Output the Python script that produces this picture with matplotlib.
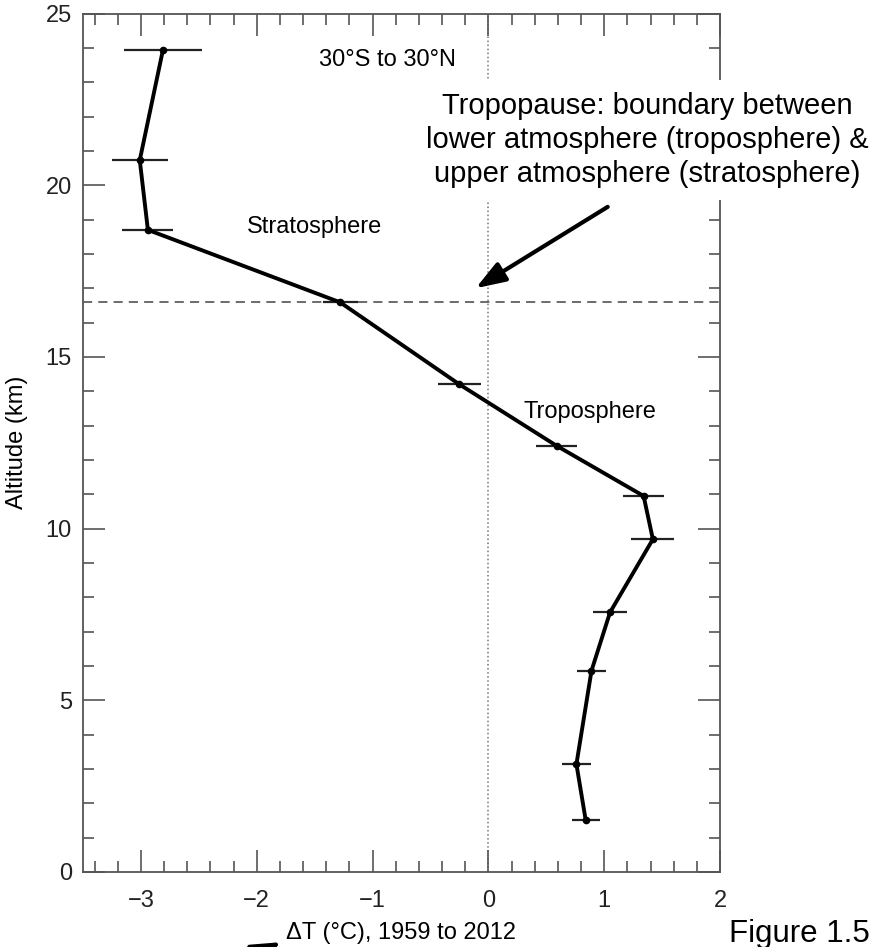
import numpy as np
import matplotlib.pyplot as plt

plt.rcParams['font.family'] = ['Liberation Sans', 'DejaVu Sans']

# Tropical (30S-30N) temperature trend profile, 1959-2012
altitude = [23.94, 20.73, 18.70, 16.59, 14.20, 12.41, 10.95, 9.69, 7.56, 5.86, 3.14, 1.51]
delta_t = [-2.81, -3.01, -2.94, -1.28, -0.25, 0.59, 1.34, 1.42, 1.05, 0.89, 0.76, 0.84]
delta_t_err = [0.34, 0.24, 0.22, 0.15, 0.185, 0.175, 0.175, 0.185, 0.15, 0.125, 0.125, 0.12]
tropopause_km = 16.6

x_ticks = [-3, -2, -1, 0, 1, 2]
y_ticks = [0, 5, 10, 15, 20, 25]

fig = plt.figure(figsize=(8.86, 9.47), dpi=100)
ax = fig.add_axes([0.0937, 0.0792, 0.719, 0.9065])

frame = '#555555'
for s in ax.spines.values():
    s.set_color(frame)
    s.set_linewidth(1.3)

ax.set_xlim(-3.5, 2)
ax.set_ylim(0, 25)
ax.set_xticks(x_ticks)
ax.set_yticks(y_ticks)
ax.set_xticks(np.arange(-3.4, 2.0, 0.2), minor=True)
ax.set_yticks(np.arange(0, 26, 1), minor=True)
ax.tick_params(which='both', direction='in', top=True, right=True, color=frame, width=1.2)
ax.tick_params(which='major', length=16, labelsize=17, labelcolor='#222222')
ax.tick_params(which='minor', length=8)
ax.tick_params(axis='y', pad=8)
ax.tick_params(axis='x', pad=13)

# reference lines: zero trend and tropopause height
ax.axvline(0, color='#777777', ls=':', lw=1.1, zorder=1)
ax.axhline(tropopause_km, color='#444444', ls=(0, (6, 4)), lw=1.1, zorder=1)

ax.errorbar(delta_t, altitude, xerr=delta_t_err, fmt='-o', color='black', lw=2.8,
            ms=4.5, ecolor='#222222', elinewidth=1.6, capsize=0, zorder=3)

ax.set_ylabel('Altitude (km)', fontsize=17)
ax.yaxis.set_label_coords(-0.086, 0.5)
ax.set_xlabel('ΔT (°C), 1959 to 2012', fontsize=17, va='center')
ax.xaxis.set_label_coords(0.499, -0.071)

ax.text(-0.87, 23.48, '30°S to 30°N', fontsize=17, ha='center', va='baseline')
ax.text(-1.5, 18.6, 'Stratosphere', fontsize=17, ha='center', va='baseline')
ax.text(0.305, 13.21, 'Troposphere', fontsize=17, ha='left', va='baseline')

# annotation box sits on top of the frame
fig.text(647 / 886, 1 - 140 / 947,
         'Tropopause: boundary between\nlower atmosphere (troposphere) &\nupper atmosphere (stratosphere)',
         fontsize=21, ha='center', va='center', multialignment='center', linespacing=1.28,
         bbox=dict(boxstyle='square,pad=0.4', facecolor='white', edgecolor='none'), zorder=5)

ax.annotate('', xy=(-0.11, 17.0), xytext=(1.03, 19.37), annotation_clip=False, zorder=6,
            arrowprops=dict(arrowstyle='-|>,head_length=0.9,head_width=0.32', color='black',
                            lw=3, mutation_scale=20, shrinkA=0, shrinkB=0))

fig.text(799 / 886, 1 - 941.7 / 947, 'Figure 1.5', fontsize=22.5, ha='center', va='baseline')

# arrow coming in from below the page
fig.add_artist(plt.matplotlib.patches.FancyArrowPatch(
    (170 / 886, -45 / 947), (284 / 886, 1 - 941 / 947), transform=fig.transFigure,
    arrowstyle='-|>,head_length=0.9,head_width=0.32', mutation_scale=20, color='black', lw=3))

fig.savefig('out.png', dpi=100)
